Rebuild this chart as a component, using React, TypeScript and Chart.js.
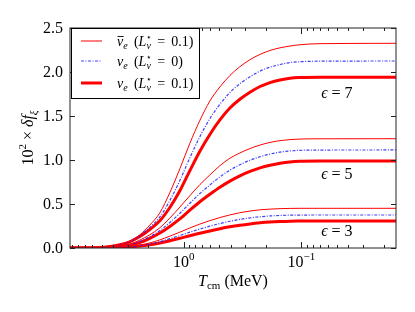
import React, { useEffect, useRef } from 'react';
import { Chart, registerables } from 'chart.js';

Chart.register(...registerables);

// ---------- data ----------
const temps = [9.3, 6.31, 5.19, 4.26, 3.5, 2.88, 2.37, 1.95, 1.6, 1.316, 1.082, 0.889, 0.731, 0.601, 0.494, 0.406, 0.334, 0.274, 0.225, 0.185, 0.152, 0.125, 0.103, 0.0696, 0.0157];

const nuBarL01Eps7 = [0, 0.001, 0.006, 0.02, 0.04, 0.08, 0.15, 0.26, 0.40, 0.63, 0.90, 1.19, 1.45, 1.67, 1.83, 1.96, 2.06, 2.14, 2.20, 2.245, 2.275, 2.295, 2.31, 2.322, 2.326];
const nuL0Eps7 = [0, 0.001, 0.0055, 0.019, 0.038, 0.075, 0.14, 0.234, 0.353, 0.54, 0.767, 1.026, 1.265, 1.47, 1.633, 1.767, 1.867, 1.947, 2.01, 2.055, 2.085, 2.108, 2.117, 2.123, 2.125];
const nuL01Eps7 = [0, 0.001, 0.005, 0.018, 0.036, 0.07, 0.13, 0.21, 0.31, 0.46, 0.65, 0.88, 1.10, 1.29, 1.455, 1.59, 1.69, 1.77, 1.835, 1.88, 1.91, 1.93, 1.937, 1.94, 1.94];

const nuBarL01Eps5 = [0, 0.001, 0.004, 0.01, 0.02, 0.042, 0.09, 0.15, 0.23, 0.34, 0.465, 0.595, 0.72, 0.83, 0.935, 1.02, 1.08, 1.13, 1.17, 1.2, 1.22, 1.232, 1.238, 1.241, 1.242];
const nuL0Eps5 = [0, 0.001, 0.0035, 0.009, 0.019, 0.038, 0.075, 0.129, 0.199, 0.29, 0.394, 0.509, 0.619, 0.716, 0.808, 0.885, 0.946, 0.997, 1.037, 1.067, 1.089, 1.103, 1.11, 1.113, 1.114];
const nuL01Eps5 = [0, 0.001, 0.003, 0.008, 0.018, 0.035, 0.062, 0.11, 0.17, 0.245, 0.33, 0.43, 0.525, 0.61, 0.69, 0.76, 0.82, 0.87, 0.91, 0.94, 0.963, 0.978, 0.985, 0.988, 0.989];

const nuBarL01Eps3 = [0, 0.0005, 0.0015, 0.005, 0.01, 0.02, 0.034, 0.058, 0.092, 0.135, 0.18, 0.228, 0.272, 0.311, 0.346, 0.376, 0.401, 0.42, 0.434, 0.442, 0.447, 0.45, 0.451, 0.451, 0.451];
const nuL0Eps3 = [0, 0.0005, 0.0012, 0.004, 0.0084, 0.016, 0.0276, 0.046, 0.072, 0.106, 0.142, 0.18, 0.215, 0.248, 0.278, 0.304, 0.325, 0.342, 0.355, 0.364, 0.37, 0.373, 0.374, 0.375, 0.375];
const nuL01Eps3 = [0, 0.0005, 0.001, 0.003, 0.007, 0.013, 0.022, 0.036, 0.056, 0.082, 0.11, 0.14, 0.167, 0.194, 0.219, 0.241, 0.259, 0.274, 0.286, 0.295, 0.301, 0.305, 0.306, 0.307, 0.307];

const xMin = 0.0157;
const xMax = 9.3;
const yMin = 0;
const yMax = 2.5;
const yTicks = [0, 0.5, 1.0, 1.5, 2.0, 2.5];
const xMajorTicks = [1, 0.1];
const xMajorExponents = ['0', '\u22121'];
const xMinorMantissas = [2, 3, 4, 5, 6, 7, 8, 9];
const xDecades = [0.01, 0.1, 1];

const epsValues = ['7', '5', '3'];
const epsLabelX = [0.068, 0.068, 0.068];
const epsLabelY = [1.77, 0.85, 0.2];

// ---------- styles ----------
const FONT = '"Liberation Serif", "DejaVu Serif", serif';
const RED = '#ff0000';
const BLUE = 'rgba(30,30,255,0.85)';

type Seg = { t: string; size: number; italic?: boolean; dy?: number; bar?: boolean; noAdvance?: boolean };

function segFont(s: Seg) {
  return `${s.italic ? 'italic ' : ''}${s.size}px ${FONT}`;
}
function richWidth(ctx: CanvasRenderingContext2D, segs: Seg[]) {
  let w = 0;
  for (const s of segs) {
    ctx.font = segFont(s);
    if (!s.noAdvance) w += ctx.measureText(s.t).width;
  }
  return w;
}
function drawRich(ctx: CanvasRenderingContext2D, x: number, y: number, segs: Seg[], align: 'left' | 'center' | 'right') {
  const w = richWidth(ctx, segs);
  let cx = align === 'left' ? x : align === 'center' ? x - w / 2 : x - w;
  ctx.textAlign = 'left';
  ctx.textBaseline = 'alphabetic';
  for (const s of segs) {
    ctx.font = segFont(s);
    const sw = ctx.measureText(s.t).width;
    ctx.fillText(s.t, cx, y + (s.dy || 0));
    if (s.bar) {
      ctx.save();
      ctx.lineWidth = 0.9;
      ctx.strokeStyle = ctx.fillStyle as string;
      ctx.beginPath();
      ctx.moveTo(cx + 0.5, y - s.size * 0.68);
      ctx.lineTo(cx + sw + 0.5, y - s.size * 0.68);
      ctx.stroke();
      ctx.restore();
    }
    if (!s.noAdvance) cx += sw;
  }
}

function legendSegs(bar: boolean, value: string): Seg[] {
  return [
    { t: '\u03bd', size: 14, italic: true, bar },
    { t: 'e', size: 10, italic: true, dy: 3 },
    { t: ' \u2009(', size: 14 },
    { t: 'L', size: 14, italic: true },
    { t: '\u22c6', size: 9, dy: -6, noAdvance: true },
    { t: '\u03bd', size: 10, italic: true, dy: 3 },
    { t: ' \u2009=\u2009 ', size: 14 },
    { t: value + ')', size: 14 },
  ];
}

const decorPlugin = {
  id: 'decor',
  afterDraw(chart: any) {
    const ctx: CanvasRenderingContext2D = chart.ctx;
    const { left, right, top, bottom } = chart.chartArea;
    const xs = chart.scales.x;
    const ys = chart.scales.y;
    ctx.save();

    // frame
    ctx.strokeStyle = '#222';
    ctx.lineWidth = 1;
    ctx.strokeRect(left, top, right - left, bottom - top);

    // x ticks (inward, top & bottom)
    ctx.beginPath();
    for (const d of xDecades) {
      for (const m of xMinorMantissas) {
        const v = d * m;
        if (v < xMin || v > xMax) continue;
        const px = Math.round(xs.getPixelForValue(v)) + 0.5;
        ctx.moveTo(px, bottom);
        ctx.lineTo(px, bottom - 3);
        ctx.moveTo(px, top);
        ctx.lineTo(px, top + 3);
      }
    }
    for (const v of xMajorTicks) {
      const px = Math.round(xs.getPixelForValue(v)) + 0.5;
      ctx.moveTo(px, bottom);
      ctx.lineTo(px, bottom - 6);
      ctx.moveTo(px, top);
      ctx.lineTo(px, top + 6);
    }
    // y ticks (inward, left & right)
    for (const v of yTicks) {
      const py = Math.round(ys.getPixelForValue(v)) + 0.5;
      ctx.moveTo(left, py);
      ctx.lineTo(left + 5, py);
      ctx.moveTo(right, py);
      ctx.lineTo(right - 5, py);
    }
    ctx.stroke();

    ctx.fillStyle = '#000';
    // y tick labels
    ctx.font = `16px ${FONT}`;
    ctx.textAlign = 'right';
    ctx.textBaseline = 'middle';
    for (const v of yTicks) {
      ctx.fillText(v.toFixed(1), left - 7, ys.getPixelForValue(v) + 1);
    }
    // x tick labels
    xMajorTicks.forEach((v, i) => {
      drawRich(ctx, xs.getPixelForValue(v), bottom + 19, [
        { t: '10', size: 16 },
        { t: xMajorExponents[i], size: 11, dy: -7 },
      ], 'center');
    });

    // x title
    drawRich(ctx, (left + right) / 2, bottom + 38, [
      { t: 'T', size: 16, italic: true },
      { t: 'cm', size: 11, dy: 3 },
      { t: ' (MeV)', size: 16 },
    ], 'center');

    // y title (rotated)
    ctx.save();
    ctx.translate(33, (top + bottom) / 2);
    ctx.rotate(-Math.PI / 2);
    drawRich(ctx, 0, 0, [
      { t: '10', size: 16 },
      { t: '2', size: 11, dy: -7 },
      { t: ' \u00d7 ', size: 16 },
      { t: '\u03b4', size: 16, italic: true },
      { t: 'f', size: 16, italic: true },
      { t: '\u03be', size: 11, italic: true, dy: 4 },
    ], 'center');
    ctx.restore();

    // epsilon annotations
    epsValues.forEach((e, i) => {
      const px = xs.getPixelForValue(epsLabelX[i]);
      const py = ys.getPixelForValue(epsLabelY[i]);
      drawRich(ctx, px, py + 6, [
        { t: '\u03f5', size: 16, italic: true },
        { t: ' = ', size: 16 },
        { t: e, size: 16 },
      ], 'left');
    });

    // legend
    const lx = left + 1, ly = top, lw = 128, lh = 70;
    ctx.fillStyle = '#fff';
    ctx.fillRect(lx, ly, lw, lh);
    ctx.strokeStyle = '#000';
    ctx.lineWidth = 1;
    ctx.strokeRect(lx + 0.5, ly + 0.5, lw, lh);
    const rows = [13, 33, 55];
    const texts = [legendSegs(true, '0.1'), legendSegs(false, '0'), legendSegs(false, '0.1')];
    for (let i = 0; i < 3; i++) {
      const ds = chart.data.datasets[i];
      const yy = ly + rows[i];
      ctx.save();
      ctx.strokeStyle = ds.borderColor;
      ctx.lineWidth = ds.borderWidth;
      ctx.setLineDash(ds.borderDash || []);
      ctx.beginPath();
      ctx.moveTo(lx + 10, yy);
      ctx.lineTo(lx + 31, yy);
      ctx.stroke();
      ctx.restore();
      ctx.fillStyle = '#000';
      drawRich(ctx, lx + 46, yy + 5, texts[i], 'left');
    }

    ctx.restore();
  },
};

function pts(vals: number[]) {
  return temps.map((t, i) => ({ x: t, y: vals[i] }));
}

function makeSet(vals: number[], kind: 'bar' | 'zero' | 'nu') {
  const base: any = {
    data: pts(vals),
    pointRadius: 0,
    fill: false,
    cubicInterpolationMode: 'monotone',
  };
  if (kind === 'bar') return { ...base, borderColor: RED, borderWidth: 1 };
  if (kind === 'zero') return { ...base, borderColor: BLUE, borderWidth: 1.2, borderDash: [3, 1.5, 1, 1.5] };
  return { ...base, borderColor: RED, borderWidth: 3 };
}

export default function App() {
  const ref = useRef<HTMLCanvasElement>(null);
  useEffect(() => {
    if (!ref.current) return;
    const chart = new Chart(ref.current, {
      type: 'line',
      data: {
        datasets: [
          makeSet(nuBarL01Eps7, 'bar'),
          makeSet(nuL0Eps7, 'zero'),
          makeSet(nuL01Eps7, 'nu'),
          makeSet(nuBarL01Eps5, 'bar'),
          makeSet(nuL0Eps5, 'zero'),
          makeSet(nuL01Eps5, 'nu'),
          makeSet(nuBarL01Eps3, 'bar'),
          makeSet(nuL0Eps3, 'zero'),
          makeSet(nuL01Eps3, 'nu'),
        ] as any,
      },
      options: {
        animation: false,
        responsive: false,
        maintainAspectRatio: false,
        layout: { padding: { left: 0, right: 19, top: 28, bottom: 0 } },
        plugins: { legend: { display: false }, tooltip: { enabled: false } },
        scales: {
          x: {
            type: 'logarithmic',
            reverse: true,
            min: xMin,
            max: xMax,
            grid: { display: false },
            border: { display: false },
            ticks: { display: false },
            afterFit: (s: any) => { s.height = 64; },
          } as any,
          y: {
            type: 'linear',
            min: yMin,
            max: yMax,
            grid: { display: false },
            border: { display: false },
            ticks: { display: false },
            afterFit: (s: any) => { s.width = 70; },
          } as any,
        },
      },
      plugins: [decorPlugin],
    });
    return () => chart.destroy();
  }, []);
  return (
    <div style={{ position: 'fixed', left: 0, top: 0, width: 415, height: 312, background: '#fff' }}>
      <canvas ref={ref} width={415} height={312} style={{ display: 'block', width: 415, height: 312 }} />
    </div>
  );
}
